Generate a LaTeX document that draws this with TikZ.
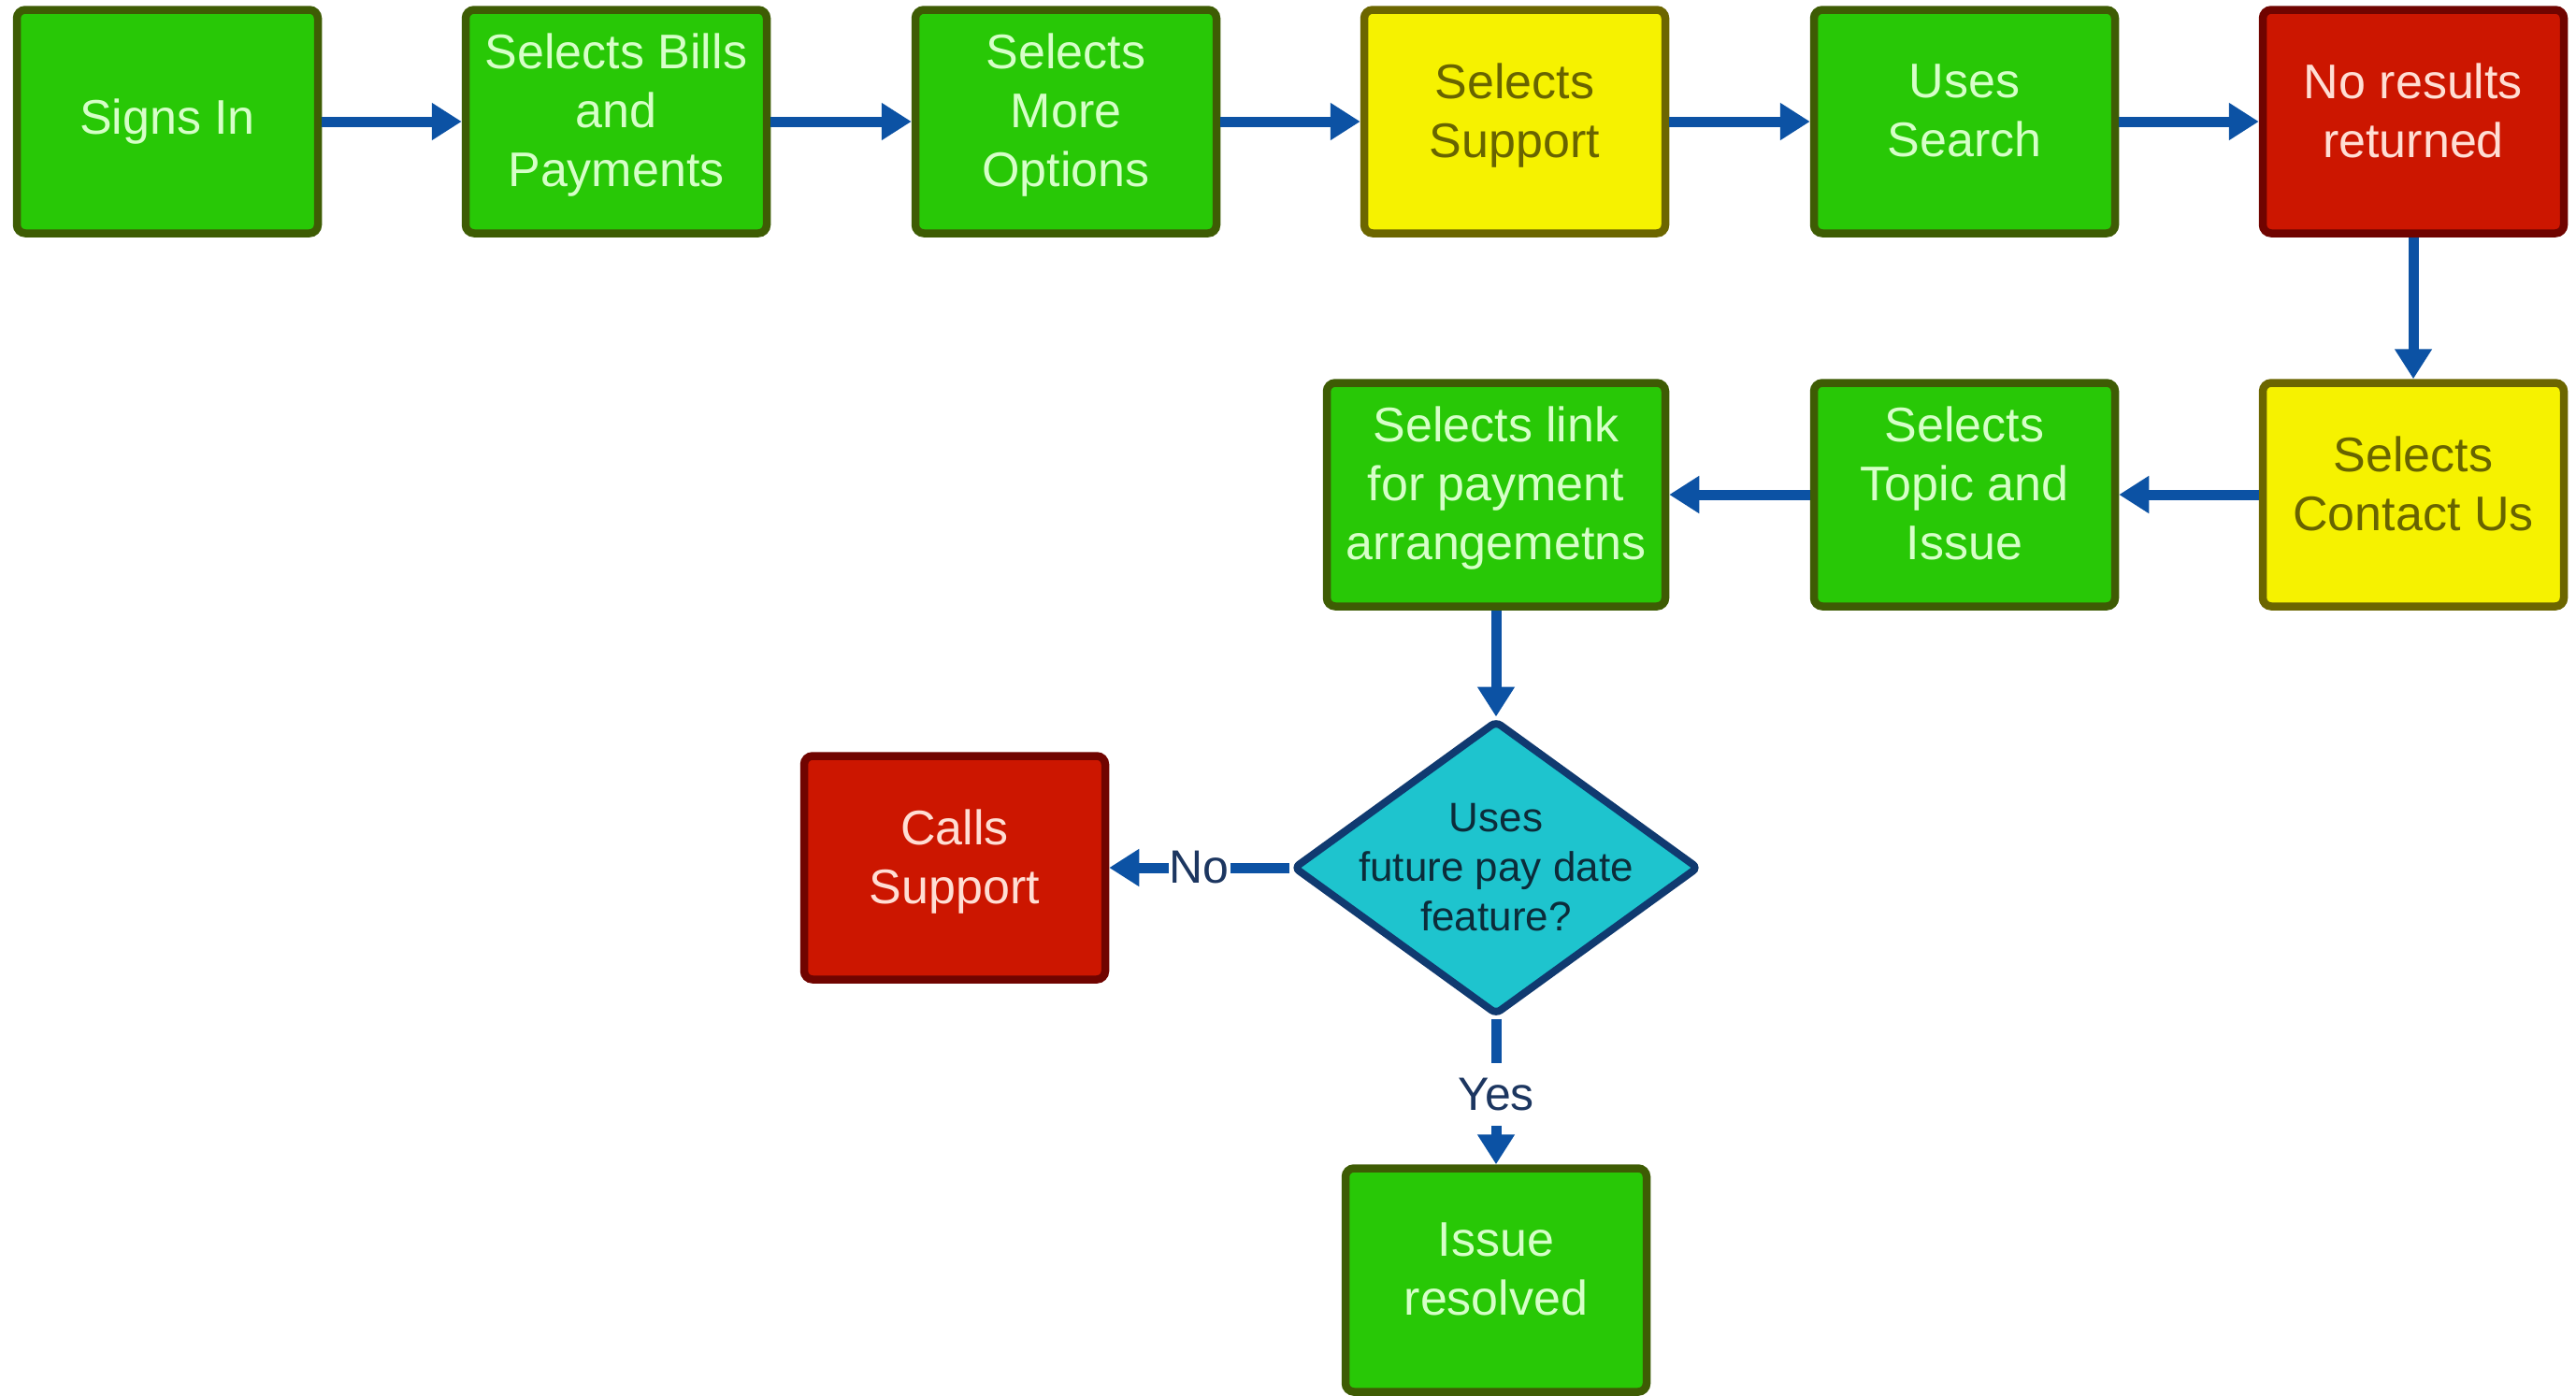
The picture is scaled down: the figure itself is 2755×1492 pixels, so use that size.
\documentclass[tikz,border=0pt]{standalone}
\usepackage{fontspec}
\setmainfont{Liberation Sans}
\usetikzlibrary{shapes.geometric,arrows.meta}

\definecolor{okfill}{RGB}{40,200,6}
\definecolor{okline}{RGB}{62,92,4}
\definecolor{oktext}{RGB}{214,255,200}
\definecolor{warnfill}{RGB}{246,242,0}
\definecolor{warnline}{RGB}{108,102,0}
\definecolor{warntext}{RGB}{104,100,0}
\definecolor{badfill}{RGB}{204,22,0}
\definecolor{badline}{RGB}{112,4,0}
\definecolor{badtext}{RGB}{255,222,212}
\definecolor{askfill}{RGB}{30,196,206}
\definecolor{askline}{RGB}{16,58,112}
\definecolor{asktext}{RGB}{12,44,58}
\definecolor{flow}{RGB}{12,82,164}
\definecolor{flowtext}{RGB}{28,54,96}

\tikzset{
  stepbox/.style={rectangle, rounded corners=9pt, line width=8.5pt,
    minimum width=322pt, minimum height=239pt, inner sep=0pt, align=center,
    text depth=24pt, font=\fontsize{52}{63}\selectfont},
  okbox/.style={stepbox, fill=okfill, draw=okline, text=oktext},
  warnbox/.style={stepbox, fill=warnfill, draw=warnline, text=warntext},
  badbox/.style={stepbox, fill=badfill, draw=badline, text=badtext},
  decision/.style={diamond, rounded corners=6pt, line width=8pt,
    fill=askfill, draw=askline, minimum width=434pt, minimum height=315pt,
    inner sep=0pt},
  decisiontext/.style={align=center, text=asktext, inner sep=0pt,
    font=\fontsize{44}{53}\selectfont},
  flowline/.style={draw=flow, line width=11pt,
    -{Triangle[width=38pt,length=32pt]}},
  branch/.style={fill=white, text=flowtext, font=\fontsize{50}{60}\selectfont}
}

\begin{document}
\begin{tikzpicture}[x=1pt,y=-1pt]
\useasboundingbox[fill=white] (0,0) rectangle (2755,1492);

% top row
\node[okbox, text depth=11pt] (signin) at (179,130) {Signs In};
\node[okbox]   (bills)   at (659,130)  {Selects Bills\\and\\Payments};
\node[okbox]   (more)    at (1140,130) {Selects\\More\\Options};
\node[warnbox] (support) at (1620,130) {Selects\\Support};
\node[okbox]   (search)  at (2101,130) {Uses\\Search};
\node[badbox]  (nores)   at (2581,130) {No results\\returned};

% second row
\node[warnbox] (contact) at (2581,529) {Selects\\Contact Us};
\node[okbox]   (topic)   at (2101,529) {Selects\\Topic and\\Issue};
\node[okbox, minimum width=362pt] (link) at (1600,529)
  {Selects link\\for payment\\arrangemetns};

% decision and outcomes
\node[decision] (ask) at (1600,928) {};
\node[decisiontext] (asklabel) at (ask.center) {Uses\\future pay date\\feature?};
\node[badbox] (calls) at (1021,928) {Calls\\Support};
\node[okbox]  (resolved) at (1600,1369) {Issue\\resolved};

% connectors
\draw[flowline] (signin.east) -- (bills.west);
\draw[flowline] (bills.east) -- (more.west);
\draw[flowline] (more.east) -- (support.west);
\draw[flowline] (support.east) -- (search.west);
\draw[flowline] (search.east) -- (nores.west);
\draw[flowline] (nores.south) -- (contact.north);
\draw[flowline] (contact.west) -- (topic.east);
\draw[flowline] (topic.west) -- (link.east);
\draw[flowline] (link.south) -- (ask.north);
\draw[flowline] (ask.west) -- node[branch, inner xsep=1pt, inner ysep=4pt] (nolabel) {No} (calls.east);
\draw[flowline] (ask.south) -- node[branch, pos=0.52, inner xsep=4pt, inner ysep=16pt] (yeslabel) {Yes} (resolved.north);
\end{tikzpicture}
\end{document}
